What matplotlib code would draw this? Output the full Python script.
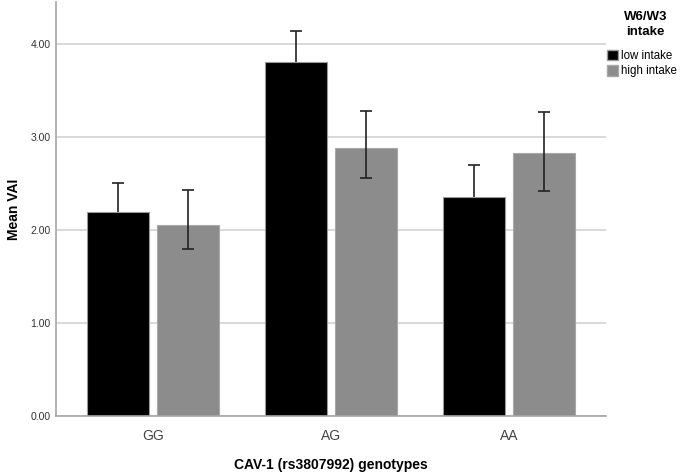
import matplotlib
matplotlib.use("Agg")
import matplotlib.pyplot as plt
import numpy as np
from matplotlib.patches import Patch

plt.rcParams["font.family"] = ["Liberation Sans", "DejaVu Sans"]

genotypes = ["GG", "AG", "AA"]
low_mean = [2.19, 3.81, 2.36]
low_upper = [2.50, 4.14, 2.70]
low_lower = [1.88, 3.48, 2.02]
high_mean = [2.05, 2.88, 2.83]
high_upper = [2.43, 3.28, 3.27]
high_lower = [1.80, 2.56, 2.42]

LOW_C = "#000000"
HIGH_C = "#8c8c8c"

fig = plt.figure(figsize=(6.85, 4.73), dpi=100)
ax = fig.add_axes([0.0818, 0.1205, 0.8036, 0.875])

x = np.arange(len(genotypes))
w = 0.35
off = 0.197

lo_err = [np.array(low_mean) - np.array(low_lower), np.array(low_upper) - np.array(low_mean)]
hi_err = [np.array(high_mean) - np.array(high_lower), np.array(high_upper) - np.array(high_mean)]

ax.bar(x - off, low_mean, w, color=LOW_C, edgecolor="#9a9a9a", lw=0.8, zorder=2)
ax.bar(x + off, high_mean, w, color=HIGH_C, edgecolor="#a8a8a8", lw=0.8, zorder=2)
ax.errorbar(x - off, low_mean, yerr=lo_err, fmt="none", ecolor="#222222",
            elinewidth=1.2, capsize=4, capthick=1.2, zorder=1)
ax.errorbar(x + off, high_mean, yerr=hi_err, fmt="none", ecolor="#222222",
            elinewidth=1.2, capsize=4, capthick=1.2, zorder=3)

ax.set_xlim(-0.545, 2.548)
ax.set_ylim(0, 4.45)
ax.set_yticks([0, 1, 2, 3, 4])
ax.set_yticklabels([f"{v:.2f}" for v in [0, 1, 2, 3, 4]], fontsize=7.5, color="#333333")
ax.set_xticks(x)
ax.set_xticklabels(genotypes, fontsize=10, color="#444444")
ax.tick_params(axis="y", length=0, pad=4)
ax.tick_params(axis="x", length=0, pad=9)
ax.yaxis.grid(True, color="#d9d9d9", lw=1.4, zorder=0)
ax.set_axisbelow(True)

for s in ["top", "right"]:
    ax.spines[s].set_visible(False)
for s in ["left", "bottom"]:
    ax.spines[s].set_color("#a6a6a6")
    ax.spines[s].set_linewidth(1.2)

ax.set_ylabel("Mean VAI", fontsize=10, fontweight="bold", labelpad=7)
ax.set_xlabel("CAV-1 (rs3807992) genotypes", fontsize=10, fontweight="bold", labelpad=11)

fig.text(0.942, 0.977, "W6/W3\nintake", ha="center", va="top", fontsize=9.5,
         fontweight="bold", linespacing=1.4)
handles = [Patch(facecolor=LOW_C, edgecolor="#9a9a9a", label="low intake"),
           Patch(facecolor=HIGH_C, edgecolor="#a8a8a8", label="high intake")]
fig.legend(handles=handles, loc="upper left", bbox_to_anchor=(0.886, 0.895),
           frameon=False, fontsize=8.3, handlelength=0.95, handleheight=1.0,
           handletextpad=0.3, labelspacing=0.3, borderaxespad=0, borderpad=0)

fig.savefig("out.png", dpi=100)
